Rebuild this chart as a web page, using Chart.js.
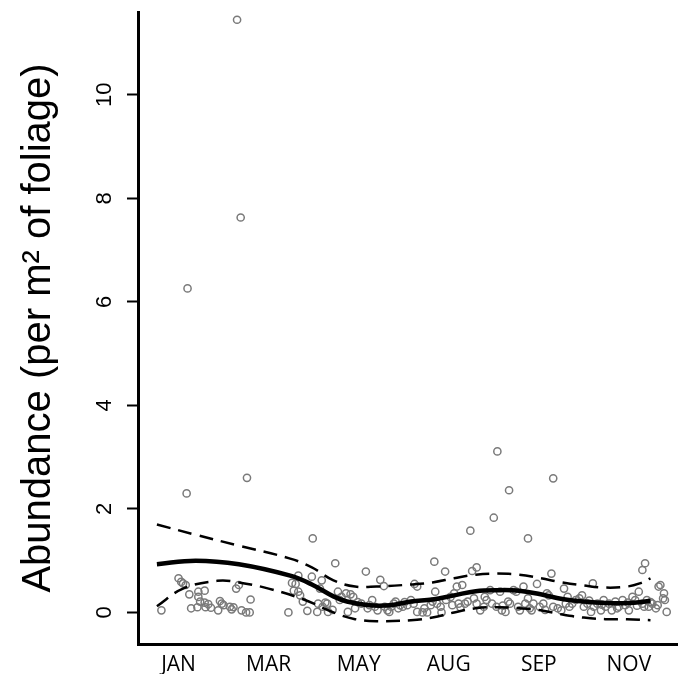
<!DOCTYPE html>
<html>
<head>
<meta charset="utf-8">
<script src="https://cdn.jsdelivr.net/npm/chart.js@4.4.0/dist/chart.umd.min.js"></script>
<style>
  html, body { margin: 0; padding: 0; background: #fff; }
  #wrap { width: 683px; height: 674px; position: relative; }
</style>
</head>
<body>
<div id="wrap"><canvas id="abundanceChart"></canvas></div>
<script>
// x is a sampling index, month labels sit every 10 units
const monthTicks = [10, 20, 30, 40, 50, 60];
const monthLabels = ["JAN", "MAR", "MAY", "AUG", "SEP", "NOV"];
const yTicks = [0, 2, 4, 6, 8, 10];

// fitted trend
const fitX = [7.6, 11.9, 16.7, 22.4, 24.8, 27.2, 28.7, 31.1, 33.5, 35.8, 38.2, 40.6, 43.0, 45.4, 47.8, 50.2, 52.6, 55.0, 57.4, 59.8, 62.4];
const fitY = [0.93, 1.0, 0.93, 0.71, 0.54, 0.31, 0.21, 0.14, 0.14, 0.21, 0.25, 0.33, 0.41, 0.43, 0.42, 0.35, 0.26, 0.21, 0.18, 0.18, 0.22];

// confidence band
const upperX = [7.6, 11.9, 16.7, 22.4, 24.8, 27.2, 29.6, 32.0, 35.8, 38.2, 40.6, 43.0, 45.4, 47.8, 50.2, 52.6, 55.0, 57.4, 59.8, 61.2, 62.4];
const upperY = [1.70, 1.50, 1.29, 1.04, 0.87, 0.62, 0.50, 0.50, 0.54, 0.58, 0.66, 0.73, 0.75, 0.73, 0.66, 0.58, 0.52, 0.48, 0.50, 0.56, 0.66];
const lowerX = [7.6, 10.5, 14.3, 16.7, 20.0, 23.9, 27.2, 29.6, 32.0, 35.8, 38.2, 40.6, 43.0, 45.4, 47.8, 50.2, 52.6, 55.0, 57.4, 59.8, 62.4];
const lowerY = [0.12, 0.46, 0.61, 0.58, 0.46, 0.25, 0.0, -0.13, -0.17, -0.15, -0.10, 0.0, 0.08, 0.10, 0.08, 0.04, -0.04, -0.10, -0.13, -0.13, -0.15];

// observed abundances
const pointX = [
  16.5, 16.9, 11.0, 10.9, 17.6, 45.4, 46.7, 51.6, 45.0, 42.4, 48.8, 24.9, 38.4, 61.8, 61.5,
  10.0, 10.5, 10.8, 8.1, 11.2, 12.2, 12.9, 12.2, 12.4, 12.9, 13.3, 11.4, 12.1, 13.6, 14.4,
  14.6, 14.8, 15.7, 15.9, 16.1, 16.4, 16.7, 17.0, 17.5, 17.9, 18.0, 13.0, 15.0, 10.3,
  22.2, 22.6, 23.3, 22.8, 23.3, 23.5, 23.8, 24.3, 24.8, 25.4, 25.5, 25.9, 26.0, 26.5, 26.6,
  27.4, 27.7, 27.9, 28.1, 28.6, 28.8, 29.1, 29.4, 29.6, 30.3, 30.8, 31.0, 31.5, 31.8, 32.1,
  32.4, 32.8, 32.9, 33.2, 33.6, 33.9, 25.7, 26.3, 23.0, 29.9, 31.2, 27.1,
  33.4, 34.1, 34.4, 34.9, 35.4, 35.8, 36.1, 36.2, 36.5, 36.5, 37.1, 37.6, 38.0, 38.2, 38.5,
  38.7, 39.1, 39.2, 39.6, 39.7, 40.2, 40.4, 40.6, 40.9, 41.1, 41.5, 41.8, 42.1, 42.6, 43.1,
  42.8, 43.1, 43.5, 43.9, 44.2, 44.6, 44.8, 45.3, 45.7, 45.9, 46.3, 46.6, 46.8, 47.2, 47.5,
  47.7, 47.9, 48.3, 48.5, 48.8, 49.2, 49.4, 49.8, 50.1, 50.5, 50.9, 51.1, 51.4, 51.6, 52.1,
  52.5, 52.8, 53.0, 53.4, 53.7, 54.1, 54.5, 54.8, 55.0, 55.4, 55.8, 56.0, 56.1, 56.5, 56.9,
  57.2, 57.4, 57.8, 58.1, 58.5, 58.9, 59.3, 59.6, 60.0, 60.4, 60.7, 61.1, 61.5, 61.7, 62.0,
  62.2, 62.6, 63.0, 63.3, 63.5, 63.9, 64.0, 64.2, 63.8,
  34.6, 35.1, 37.3, 41.3, 44.0, 46.0, 49.0, 50.7, 53.2, 55.6, 57.0, 58.7, 59.9, 60.9, 62.4, 63.2
];
const pointY = [
  11.45, 7.63, 6.26, 2.30, 2.60, 3.11, 2.36, 2.59, 1.83, 1.58, 1.43, 1.43, 0.98, 0.95, 0.82,
  0.66, 0.56, 0.53, 0.04, 0.35, 0.40, 0.42, 0.30, 0.21, 0.19, 0.16, 0.08, 0.10, 0.09, 0.04,
  0.22, 0.17, 0.11, 0.06, 0.10, 0.46, 0.53, 0.04, 0.0, 0.0, 0.25, 0.10, 0.14, 0.59,
  0.0, 0.57, 0.71, 0.42, 0.40, 0.33, 0.21, 0.03, 0.69, 0.01, 0.17, 0.62, 0.11, 0.17, 0.01,
  0.95, 0.40, 0.24, 0.30, 0.37, 0.01, 0.35, 0.30, 0.08, 0.17, 0.79, 0.08, 0.24, 0.11, 0.04,
  0.63, 0.51, 0.11, 0.04, 0.11, 0.17, 0.46, 0.19, 0.55, 0.20, 0.14, 0.05,
  0.01, 0.21, 0.08, 0.11, 0.14, 0.24, 0.17, 0.55, 0.50, 0.01, 0.0, 0.0, 0.14, 0.21, 0.40,
  0.17, 0.11, 0.0, 0.79, 0.24, 0.30, 0.14, 0.37, 0.50, 0.17, 0.53, 0.17, 0.21, 0.80, 0.87,
  0.27, 0.17, 0.04, 0.11, 0.24, 0.43, 0.17, 0.11, 0.40, 0.04, 0.01, 0.21, 0.17, 0.43, 0.40,
  0.11, 0.04, 0.50, 0.17, 0.27, 0.04, 0.17, 0.55, 0.11, 0.17, 0.37, 0.33, 0.75, 0.11, 0.08,
  0.04, 0.46, 0.17, 0.11, 0.17, 0.24, 0.27, 0.33, 0.11, 0.17, 0.01, 0.56, 0.11, 0.17, 0.04,
  0.24, 0.11, 0.17, 0.04, 0.21, 0.11, 0.24, 0.14, 0.04, 0.30, 0.24, 0.40, 0.17, 0.11, 0.24,
  0.11, 0.17, 0.08, 0.50, 0.53, 0.37, 0.24, 0.01, 0.27,
  0.14, 0.20, 0.08, 0.10, 0.30, 0.13, 0.08, 0.05, 0.30, 0.23, 0.15, 0.08, 0.19, 0.13, 0.20, 0.14
];

function zip(xs, ys) {
  return xs.map((x, i) => ({ x: x, y: ys[i] }));
}

const ctx = document.getElementById("abundanceChart");
new Chart(ctx, {
  type: "scatter",
  data: {
    datasets: [
      {
        type: "line",
        data: zip(fitX, fitY),
        borderColor: "#000",
        borderWidth: 4.5,
        tension: 0.4,
        pointRadius: 0,
        fill: false,
        order: 0,
      },
      {
        type: "line",
        data: zip(upperX, upperY),
        borderColor: "#000",
        borderWidth: 2.5,
        borderDash: [14, 8],
        tension: 0.4,
        pointRadius: 0,
        fill: false,
        order: 1,
      },
      {
        type: "line",
        data: zip(lowerX, lowerY),
        borderColor: "#000",
        borderWidth: 2.5,
        borderDash: [14, 8],
        tension: 0.4,
        pointRadius: 0,
        fill: false,
        order: 1,
      },
      {
        data: zip(pointX, pointY),
        pointStyle: "circle",
        pointRadius: 3.6,
        pointBorderWidth: 1.5,
        pointBorderColor: "#7a7a7a",
        pointBackgroundColor: "rgba(0,0,0,0)",
        order: 2,
      },
    ],
  },
  options: {
    responsive: true,
    maintainAspectRatio: false,
    animation: false,
    layout: { padding: { top: 12, right: 0, bottom: 0, left: 0 } },
    plugins: {
      legend: { display: false },
      tooltip: { enabled: false },
    },
    scales: {
      x: {
        type: "linear",
        min: 5.5,
        max: 65.4,
        afterBuildTicks: (scale) => {
          scale.ticks = monthTicks.map((v) => ({ value: v }));
        },
        afterFit: (scale) => {
          scale.height = 30;
          scale.paddingLeft = 0;
          scale.paddingRight = 0;
        },
        ticks: {
          autoSkip: false,
          maxRotation: 0,
          padding: 8,
          color: "#000",
          font: { family: "Open Sans", size: 21 },
          callback: (v) => monthLabels[monthTicks.indexOf(v)],
        },
        grid: { display: false, drawTicks: false },
        border: { display: true, color: "#000", width: 3 },
      },
      y: {
        min: -0.61,
        max: 11.6,
        afterBuildTicks: (scale) => {
          scale.ticks = yTicks.map((v) => ({ value: v }));
        },
        afterFit: (scale) => {
          scale.width = 138;
          scale.paddingTop = 0;
          scale.paddingBottom = 0;
        },
        ticks: {
          minRotation: 90,
          maxRotation: 90,
          crossAlign: "center",
          padding: 10,
          color: "#000",
          font: { family: "Liberation Sans", size: 22 },
        },
        grid: {
          drawOnChartArea: false,
          drawTicks: true,
          tickLength: 11,
          tickWidth: 2,
          tickColor: "#000",
        },
        border: { display: true, color: "#000", width: 3 },
        title: {
          display: true,
          text: "Abundance (per m² of foliage)",
          color: "#000",
          font: { family: "Liberation Sans", size: 40 },
          padding: { top: 15, bottom: 0 },
        },
      },
    },
  },
});
</script>
</body>
</html>
